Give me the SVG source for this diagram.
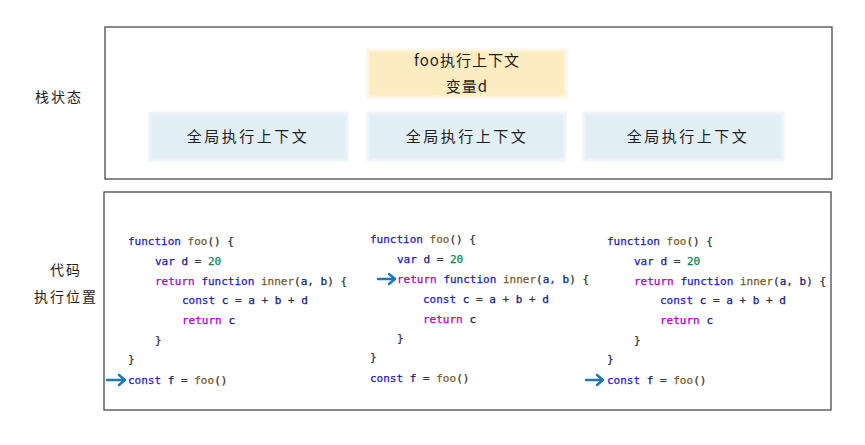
<svg xmlns="http://www.w3.org/2000/svg" width="865" height="445" viewBox="0 0 865 445">
<style>
.frame{fill:#fff;stroke:#4a4a4a;stroke-width:1.3}
.blue{fill:#e3eff7;stroke:#eef5fa;stroke-width:3}
.yellow{fill:#fdebc2;stroke:#fef6e4;stroke-width:3}
.zh{font-family:"Noto Sans CJK SC","Noto Sans",sans-serif;font-size:15px;fill:#1e1e1e;text-anchor:middle}
.lbl{font-family:"Noto Sans CJK SC","Noto Sans",sans-serif;font-size:14px;fill:#1e1e1e;text-anchor:middle}
.code{font-family:"DejaVu Sans Mono","Liberation Mono",monospace;font-size:11px;white-space:pre;fill:#333;stroke:#333;stroke-width:0.25}
.k{fill:#1a1ad0;stroke:#1a1ad0}
.r{fill:#b000d0;stroke:#b000d0}
.f{fill:#7a5b22;stroke:#7a5b22}
.v{fill:#0a1a80;stroke:#0a1a80}
.n{fill:#098658;stroke:#098658}
.arrow{fill:none;stroke:#1b78bd;stroke-width:2.4;stroke-linecap:round;stroke-linejoin:round}
</style>
<rect width="865" height="445" fill="#fff"/>
<g id="labels">
<text class="lbl" x="59" y="102" letter-spacing="2">栈状态</text>
<text class="lbl" x="66" y="275" letter-spacing="2">代码</text>
<text class="lbl" x="66" y="302" letter-spacing="2">执行位置</text>
</g>
<g id="stack-frame"><rect class="frame" x="105" y="27" width="727" height="152"/></g>
<g id="foo-ctx">
<rect class="yellow" x="368" y="50" width="198" height="47"/>
<text class="zh" x="467" y="66" letter-spacing="1">foo执行上下文</text>
<text class="zh" x="467" y="92" letter-spacing="1">变量d</text>
</g>
<g id="global-ctx-1"><rect class="blue" x="150" y="113" width="197" height="47"/><text class="zh" x="248" y="142" letter-spacing="2.5">全局执行上下文</text></g>
<g id="global-ctx-2"><rect class="blue" x="368" y="113" width="197" height="47"/><text class="zh" x="467" y="142" letter-spacing="2.5">全局执行上下文</text></g>
<g id="global-ctx-3"><rect class="blue" x="584" y="113" width="199" height="47"/><text class="zh" x="688" y="142" letter-spacing="2.5">全局执行上下文</text></g>
<g id="code-frame"><rect class="frame" x="104" y="192" width="727" height="218"/></g>
<g id="code-1" class="code">
<text x="128" y="245"><tspan class="k">function</tspan> <tspan class="f">foo</tspan>() {</text>
<text x="155" y="265"><tspan class="k">var</tspan> <tspan class="v">d</tspan> = <tspan class="n">20</tspan></text>
<text x="155" y="285"><tspan class="r">return</tspan> <tspan class="k">function</tspan> <tspan class="f">inner</tspan>(<tspan class="v">a</tspan>, <tspan class="v">b</tspan>) {</text>
<text x="182" y="304"><tspan class="k">const</tspan> <tspan class="v">c</tspan> = <tspan class="v">a</tspan> + <tspan class="v">b</tspan> + <tspan class="v">d</tspan></text>
<text x="182" y="324"><tspan class="r">return</tspan> <tspan class="v">c</tspan></text>
<text x="155" y="344">}</text>
<text x="128" y="363">}</text>
<text x="128" y="384"><tspan class="k">const</tspan> <tspan class="v">f</tspan> = <tspan class="f">foo</tspan>()</text>
</g>
<g id="code-2" class="code">
<text x="370" y="243"><tspan class="k">function</tspan> <tspan class="f">foo</tspan>() {</text>
<text x="397" y="263"><tspan class="k">var</tspan> <tspan class="v">d</tspan> = <tspan class="n">20</tspan></text>
<text x="397" y="283"><tspan class="r">return</tspan> <tspan class="k">function</tspan> <tspan class="f">inner</tspan>(<tspan class="v">a</tspan>, <tspan class="v">b</tspan>) {</text>
<text x="423" y="303"><tspan class="k">const</tspan> <tspan class="v">c</tspan> = <tspan class="v">a</tspan> + <tspan class="v">b</tspan> + <tspan class="v">d</tspan></text>
<text x="423" y="323"><tspan class="r">return</tspan> <tspan class="v">c</tspan></text>
<text x="397" y="342">}</text>
<text x="370" y="361">}</text>
<text x="370" y="382"><tspan class="k">const</tspan> <tspan class="v">f</tspan> = <tspan class="f">foo</tspan>()</text>
</g>
<g id="code-3" class="code">
<text x="607" y="245"><tspan class="k">function</tspan> <tspan class="f">foo</tspan>() {</text>
<text x="634" y="265"><tspan class="k">var</tspan> <tspan class="v">d</tspan> = <tspan class="n">20</tspan></text>
<text x="634" y="285"><tspan class="r">return</tspan> <tspan class="k">function</tspan> <tspan class="f">inner</tspan>(<tspan class="v">a</tspan>, <tspan class="v">b</tspan>) {</text>
<text x="660" y="304"><tspan class="k">const</tspan> <tspan class="v">c</tspan> = <tspan class="v">a</tspan> + <tspan class="v">b</tspan> + <tspan class="v">d</tspan></text>
<text x="660" y="324"><tspan class="r">return</tspan> <tspan class="v">c</tspan></text>
<text x="634" y="344">}</text>
<text x="607" y="363">}</text>
<text x="607" y="384"><tspan class="k">const</tspan> <tspan class="v">f</tspan> = <tspan class="f">foo</tspan>()</text>
</g>
<g id="connectors">
<path class="arrow" d="M107 380 H125 M119 375 L125 380 L119 385"/>
<path class="arrow" d="M378 279 H395 M389 274 L395 279 L389 284"/>
<path class="arrow" d="M586 380 H603 M597 375 L603 380 L597 385"/>
</g>
</svg>
